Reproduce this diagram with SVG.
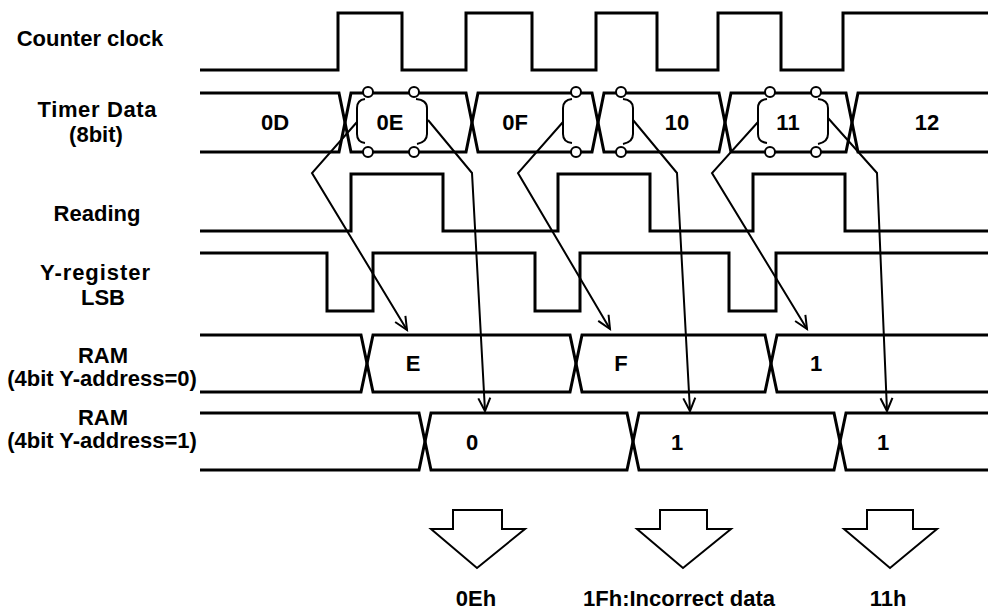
<svg xmlns="http://www.w3.org/2000/svg" width="988" height="610" viewBox="0 0 988 610">
<defs>
<style>
.lbl{font-family:"Liberation Sans",Arial,sans-serif;font-weight:bold;font-size:22px;fill:#000;text-anchor:middle}
.sig{fill:none;stroke:#000;stroke-width:3;stroke-linejoin:miter}
.conn{fill:none;stroke:#000;stroke-width:2}
.pt{fill:#fff;stroke:#000;stroke-width:2}
.brk{fill:none;stroke:#000;stroke-width:2}
.blk{fill:#fff;stroke:#000;stroke-width:2;stroke-linejoin:miter}
</style>
<marker id="ah" markerUnits="userSpaceOnUse" markerWidth="16" markerHeight="14" refX="13" refY="6" orient="auto" overflow="visible">
<path d="M0,0 L13,6 L0,12" fill="none" stroke="#000" stroke-width="2"/>
</marker>
</defs>
<rect width="988" height="610" fill="#fff"/>

<g id="counter-clock">
<text class="lbl" x="90" y="46">Counter clock</text>
<path class="sig" d="M200,70 H338 V13 H402 V70 H466 V13 H532 V70 H596 V13 H657 V70 H718 V13 H781 V70 H843 V13 H988"/>
</g>

<g id="timer-data">
<text class="lbl" x="97" y="117" textLength="119" lengthAdjust="spacing">Timer Data</text>
<text class="lbl" x="96" y="142">(8bit)</text>
<path class="sig" d="M200,93 H339 L351,152 H466 L478,93 H592 L604,152 H719 L731,93 H846 L858,152 H988"/>
<path class="sig" d="M200,152 H339 L351,93 H466 L478,152 H592 L604,93 H719 L731,152 H846 L858,93 H988"/>
<text class="lbl" x="275" y="130">0D</text>
<text class="lbl" x="390" y="130">0E</text>
<text class="lbl" x="515" y="130">0F</text>
<text class="lbl" x="677" y="130">10</text>
<text class="lbl" x="788" y="130">11</text>
<text class="lbl" x="927" y="130">12</text>
<path class="brk" d="M365,99 Q357,100 357,108 V134 Q357,142 365,143"/>
<path class="brk" d="M416,99 Q427,100 427,108 V134 Q427,142 417,144"/>
<path class="brk" d="M572,99 Q563,100 563,108 V134 Q563,142 572,143"/>
<path class="brk" d="M623,99 Q633,100 633,108 V134 Q633,142 623,144"/>
<path class="brk" d="M767,99 Q758,100 758,108 V134 Q758,142 767,143"/>
<path class="brk" d="M818,99 Q828,100 828,108 V134 Q828,142 818,144"/>
<circle class="pt" cx="368" cy="92" r="5"/>
<circle class="pt" cx="414" cy="92" r="5"/>
<circle class="pt" cx="368" cy="152" r="5"/>
<circle class="pt" cx="414" cy="152" r="5"/>
<circle class="pt" cx="576" cy="92" r="5"/>
<circle class="pt" cx="621" cy="92" r="5"/>
<circle class="pt" cx="576" cy="152" r="5"/>
<circle class="pt" cx="621" cy="152" r="5"/>
<circle class="pt" cx="770" cy="92" r="5"/>
<circle class="pt" cx="816" cy="92" r="5"/>
<circle class="pt" cx="770" cy="152" r="5"/>
<circle class="pt" cx="816" cy="152" r="5"/>
</g>

<g id="reading">
<text class="lbl" x="97" y="221">Reading</text>
<path class="sig" d="M200,231 H351 V174 H443 V231 H558 V174 H650 V231 H753 V174 H845 V231 H988"/>
</g>

<g id="y-register-lsb">
<text class="lbl" x="95" y="280" textLength="110" lengthAdjust="spacing">Y-register</text>
<text class="lbl" x="103" y="305">LSB</text>
<path class="sig" d="M200,253 H327 V311 H373 V253 H535 V311 H580 V253 H729 V311 H776 V253 H988"/>
</g>

<g id="ram-y0">
<text class="lbl" x="103" y="363">RAM</text>
<text class="lbl" x="102" y="386">(4bit Y-address=0)</text>
<path class="sig" d="M200,335 H361 L373,392 H570 L582,335 H765 L777,392 H988"/>
<path class="sig" d="M200,392 H361 L373,335 H570 L582,392 H765 L777,335 H988"/>
<text class="lbl" x="413" y="371">E</text>
<text class="lbl" x="621" y="371">F</text>
<text class="lbl" x="816" y="371">1</text>
</g>

<g id="ram-y1">
<text class="lbl" x="103" y="425">RAM</text>
<text class="lbl" x="102" y="448">(4bit Y-address=1)</text>
<path class="sig" d="M200,413 H419 L431,470 H627 L639,413 H834 L846,470 H988"/>
<path class="sig" d="M200,470 H419 L431,413 H627 L639,470 H834 L846,413 H988"/>
<text class="lbl" x="472" y="450">0</text>
<text class="lbl" x="677" y="450">1</text>
<text class="lbl" x="883" y="450">1</text>
</g>

<g id="result-0eh">
<path class="blk" d="M453,510 H502 V529 H525 L477,568 L431,529 H453 Z"/>
<text class="lbl" x="476" y="606">0Eh</text>
</g>
<g id="result-1fh">
<path class="blk" d="M660,510 H707 V529 H731 L683,568 L637,529 H660 Z"/>
<text class="lbl" x="679" y="606">1Fh:Incorrect data</text>
</g>
<g id="result-11h">
<path class="blk" d="M867,510 H913 V529 H937 L890,568 L844,529 H867 Z"/>
<text class="lbl" x="888" y="606">11h</text>
</g>

<g id="connectors">
<path class="conn" d="M357,122 L312,173 L407,330" marker-end="url(#ah)"/>
<path class="conn" d="M428,120 L472,173 L485,411" marker-end="url(#ah)"/>
<path class="conn" d="M563,122 L518,173 L610,329" marker-end="url(#ah)"/>
<path class="conn" d="M633,120 L677,173 L690,411" marker-end="url(#ah)"/>
<path class="conn" d="M758,122 L712,173 L807,329" marker-end="url(#ah)"/>
<path class="conn" d="M828,118 L877,173 L887,411" marker-end="url(#ah)"/>
</g>
</svg>
